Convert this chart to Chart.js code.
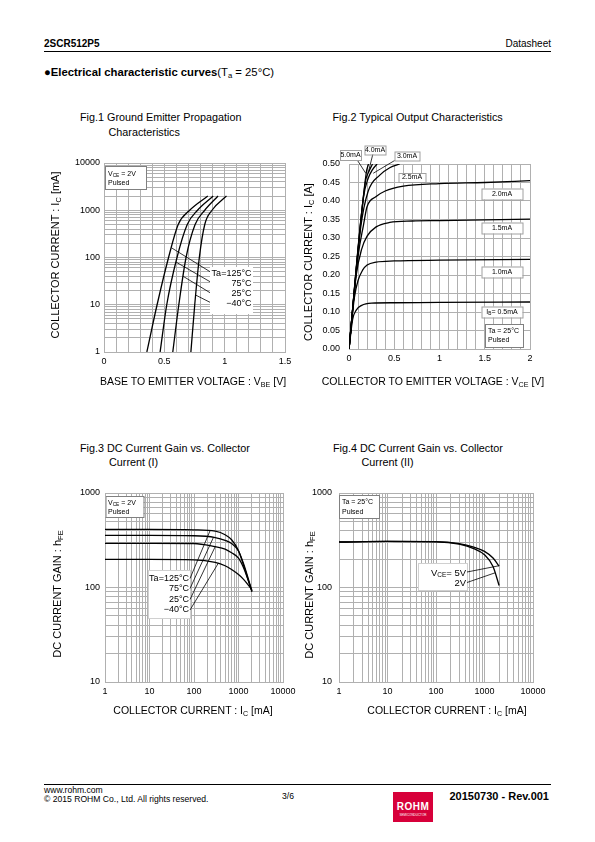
<!DOCTYPE html>
<html>
<head>
<meta charset="utf-8">
<script src="https://cdn.jsdelivr.net/npm/chart.js@4.4.0/dist/chart.umd.min.js"></script>
<style>
body { margin:0; width:595px; height:842px; position:relative; background:#fff; color:#000;
       font-family:"Liberation Sans", Arial, sans-serif; overflow:hidden; }
.t { position:absolute; white-space:nowrap; line-height:1; }
.s { font-size:68%; position:relative; top:0.3em; }
.rot { transform:translate(-50%,-50%) rotate(-90deg); }
.ctr { transform:translate(-50%,-50%); }
.rule { position:absolute; left:44px; width:507px; height:1px; background:#000; }
canvas { position:absolute; }
.logo { position:absolute; left:393px; top:792px; width:40px; height:30px; background:#d7003a; color:#fff; text-align:center; }
</style>
</head>
<body>
<!-- cabecera -->
<div class="t" style="left:44px;top:38.5px;font-size:10px;font-weight:bold">2SCR512P5</div>
<div class="t" style="right:44px;top:39px;font-size:10px">Datasheet</div>
<div class="rule" style="top:51px"></div>
<div class="t" style="left:44px;top:66.5px;font-size:11.3px"><b>●Electrical characteristic curves</b>(T<span class="s">a</span> = 25°C)</div>

<!-- titulos de figuras -->
<div class="t" style="left:80px;top:112px;font-size:10.8px">Fig.1 Ground Emitter Propagation</div>
<div class="t" style="left:108.5px;top:126.5px;font-size:10.8px">Characteristics</div>
<div class="t" style="left:332.5px;top:112px;font-size:10.8px">Fig.2 Typical Output Characteristics</div>
<div class="t" style="left:80px;top:443px;font-size:10.8px">Fig.3 DC Current Gain vs. Collector</div>
<div class="t" style="left:109px;top:457px;font-size:10.8px">Current (I)</div>
<div class="t" style="left:333px;top:443px;font-size:10.8px">Fig.4 DC Current Gain vs. Collector</div>
<div class="t" style="left:361.5px;top:457px;font-size:10.8px">Current (II)</div>

<canvas id="fig1" width="260" height="250" style="left:40px;top:150px"></canvas>
<canvas id="fig2" width="260" height="260" style="left:300px;top:140px"></canvas>
<canvas id="fig3" width="260" height="250" style="left:40px;top:480px"></canvas>
<canvas id="fig4" width="260" height="250" style="left:300px;top:480px"></canvas>

<!-- titulos de ejes -->
<div class="t rot" style="left:55px;top:255px;font-size:11px">COLLECTOR CURRENT : I<span class="s">C</span> [mA]</div>
<div class="t ctr" style="left:193px;top:381.5px;font-size:10.5px">BASE TO EMITTER VOLTAGE : V<span class="s">BE</span> [V]</div>
<div class="t rot" style="left:308px;top:262px;font-size:11px">COLLECTOR CURRENT : I<span class="s">C</span> [A]</div>
<div class="t ctr" style="left:433px;top:381.5px;font-size:10.5px">COLLECTOR TO EMITTER VOLTAGE : V<span class="s">CE</span> [V]</div>
<div class="t rot" style="left:57px;top:594px;font-size:11px">DC CURRENT GAIN : h<span class="s">FE</span></div>
<div class="t ctr" style="left:193px;top:711px;font-size:10.5px">COLLECTOR CURRENT : I<span class="s">C</span> [mA]</div>
<div class="t rot" style="left:309px;top:595px;font-size:11px">DC CURRENT GAIN : h<span class="s">FE</span></div>
<div class="t ctr" style="left:447px;top:711px;font-size:10.5px">COLLECTOR CURRENT : I<span class="s">C</span> [mA]</div>

<!-- pie -->
<div class="rule" style="top:784px"></div>
<div class="t" style="left:44px;top:785.5px;font-size:8.6px">www.rohm.com</div>
<div class="t" style="left:44px;top:794.5px;font-size:8.6px">© 2015 ROHM Co., Ltd. All rights reserved.</div>
<div class="t" style="left:282px;top:791.5px;font-size:8.6px">3/6</div>
<div class="logo"><div style="font-weight:bold;font-size:10px;margin-top:9px;letter-spacing:0.5px">ROHM</div><div style="font-size:3px;margin-top:1px">SEMICONDUCTOR</div></div>
<div class="t" style="right:46px;top:791px;font-size:11px;font-weight:bold">20150730 - Rev.001</div>

<script>
// Fig.1 datos: Ic [mA] vs Vbe [V]
const fig1Ic = [1, 10, 100, 500, 1000, 2000];
const fig1Vbe125 = [0.355, 0.44, 0.535, 0.615, 0.71, 0.86];
const fig1Vbe75 = [0.465, 0.52, 0.605, 0.69, 0.775, 0.905];
const fig1Vbe25 = [0.57, 0.62, 0.68, 0.755, 0.835, 0.945];
const fig1VbeM40 = [0.72, 0.752, 0.79, 0.835, 0.895, 1.015];
const fig1XLabels = [0, 0.5, 1, 1.5];
const fig1YLabels = [1, 10, 100, 1000, 10000];

// Fig.2 datos: Ic [A] vs Vce [V] para cada Ib
const fig2Vce05 = [0, 0.04, 0.08, 0.14, 0.25, 0.5, 1, 2];
const fig2Ic05 = [0, 0.08, 0.105, 0.118, 0.124, 0.125, 0.126, 0.127];
const fig2Vce10 = [0, 0.06, 0.1, 0.15, 0.2, 0.3, 0.5, 1, 2];
const fig2Ic10 = [0, 0.14, 0.185, 0.213, 0.227, 0.235, 0.238, 0.240, 0.242];
const fig2Vce15 = [0, 0.08, 0.14, 0.2, 0.3, 0.45, 0.7, 1, 2];
const fig2Ic15 = [0, 0.2, 0.27, 0.305, 0.33, 0.342, 0.346, 0.347, 0.351];
const fig2Vce20 = [0, 0.1, 0.16, 0.2, 0.3, 0.4, 0.6, 1, 1.5, 2];
const fig2Ic20 = [0, 0.25, 0.335, 0.385, 0.412, 0.427, 0.44, 0.447, 0.45, 0.455];
const fig2Vce25 = [0, 0.13, 0.21, 0.34, 0.45, 0.56];
const fig2Ic25 = [0, 0.33, 0.425, 0.47, 0.49, 0.5];
const fig2Vce30 = [0, 0.16, 0.21, 0.26, 0.31];
const fig2Ic30 = [0, 0.41, 0.46, 0.485, 0.5];
const fig2Vce40 = [0, 0.18, 0.22, 0.26];
const fig2Ic40 = [0, 0.45, 0.48, 0.5];
const fig2Vce50 = [0, 0.19, 0.215];
const fig2Ic50 = [0, 0.475, 0.5];
const fig2XLabels = [0, 0.5, 1, 1.5, 2];
const fig2YLabels = [0, 0.05, 0.1, 0.15, 0.2, 0.25, 0.3, 0.35, 0.4, 0.45, 0.5];

// Fig.3 datos: hFE vs Ic [mA] (Vce = 2V)
const fig3Ic = [1, 10, 100, 300, 500, 700, 1000, 1300, 2000];
const fig3Hfe125 = [412, 412, 408, 395, 362, 320, 245, 172, 90];
const fig3Hfe75 = [356, 356, 353, 338, 316, 292, 243, 178, 92];
const fig3Hfe25 = [293, 293, 292, 270, 255, 233, 205, 162, 92];
const fig3HfeM40 = [198, 198, 196, 184, 170, 155, 137, 122, 95];
const fig3XLabels = [1, 10, 100, 1000, 10000];
const fig3YLabels = [10, 100, 1000];

// Fig.4 datos: hFE vs Ic [mA] (Ta = 25C)
const fig4Ic = [1, 10, 100, 300, 600, 1000, 1500, 2000];
const fig4Hfe5V = [303, 307, 306, 292, 268, 241, 205, 168];
const fig4Hfe2V = [303, 307, 304, 287, 258, 222, 167, 105];

const FONT = '"Liberation Sans", Arial, sans-serif';
const GRID = '#b0b0b0';

function logGrid(min, max) {
  const out = [];
  for (let d = min; d < max; d *= 10) for (let k = 1; k < 10; k++) out.push(k * d);
  out.push(max);
  return out;
}
function linGrid(min, max, step) {
  const n = Math.round((max - min) / step);
  return Array.from({ length: n + 1 }, (_, i) => +(min + i * step).toFixed(4));
}

function axis(o) {
  return {
    type: o.type, min: o.min, max: o.max,
    afterBuildTicks: s => { s.ticks = o.grid.map(v => ({ value: v })); },
    afterFit: s => { if (o.width) s.width = o.width; if (o.height) s.height = o.height; },
    ticks: {
      autoSkip: false, maxRotation: 0, padding: o.pad, color: '#000',
      font: { family: FONT, size: 9 },
      callback: v => {
        const hit = o.labels.find(l => Math.abs(l - v) < 1e-9);
        return hit === undefined ? '' : o.fmt(hit);
      }
    },
    grid: { color: GRID, lineWidth: 1, drawTicks: false },
    border: { display: true, color: GRID }
  };
}

function curve(xs, ys) {
  return {
    data: xs.map((x, i) => ({ x: x, y: ys[i] })),
    borderColor: '#000', borderWidth: 1.3, pointRadius: 0,
    showLine: true, fill: false, cubicInterpolationMode: 'monotone'
  };
}

// utilidades de dibujo para las anotaciones
function fnt(size) { return size + 'px ' + FONT; }
function rich(ctx, segs, x, y, size, align) {
  let w = 0;
  segs.forEach(([t, sub]) => { ctx.font = fnt(sub ? size * 0.68 : size); w += ctx.measureText(t).width; });
  let cx = align === 'right' ? x - w : (align === 'center' ? x - w / 2 : x);
  ctx.textAlign = 'left';
  ctx.textBaseline = 'middle';
  ctx.fillStyle = '#000';
  segs.forEach(([t, sub]) => {
    ctx.font = fnt(sub ? size * 0.68 : size);
    ctx.fillText(t, cx, sub ? y + size * 0.28 : y);
    cx += ctx.measureText(t).width;
  });
}
function box(ctx, x, y, w, h, stroke) {
  ctx.fillStyle = '#fff';
  ctx.fillRect(x, y, w, h);
  if (stroke) { ctx.strokeStyle = stroke; ctx.lineWidth = 1; ctx.strokeRect(x + 0.5, y + 0.5, w, h); }
}
function line(ctx, x1, y1, x2, y2) {
  ctx.strokeStyle = '#000'; ctx.lineWidth = 0.8;
  ctx.beginPath(); ctx.moveTo(x1, y1); ctx.lineTo(x2, y2); ctx.stroke();
}
function notes(draw) {
  return { id: 'notes', afterDatasetsDraw(chart) {
    const a = chart.chartArea, sx = chart.scales.x, sy = chart.scales.y, ctx = chart.ctx;
    const P = (x, y) => [sx.getPixelForValue(x), sy.getPixelForValue(y)];
    ctx.save(); draw(ctx, a.left, a.top, P); ctx.restore();
  } };
}
function baseOpts(pad, x, y) {
  return {
    responsive: false, animation: false, devicePixelRatio: 1,
    layout: { padding: pad },
    plugins: { legend: { display: false }, tooltip: { enabled: false } },
    scales: { x: x, y: y }
  };
}

// Fig.1
new Chart(document.getElementById('fig1'), {
  type: 'scatter',
  data: { datasets: [
    curve(fig1Vbe125, fig1Ic), curve(fig1Vbe75, fig1Ic),
    curve(fig1Vbe25, fig1Ic), curve(fig1VbeM40, fig1Ic)
  ] },
  options: baseOpts({ top: 13, right: 15, left: 0, bottom: 0 },
    axis({ type: 'linear', min: 0, max: 1.5, grid: linGrid(0, 1.5, 0.1), labels: fig1XLabels, fmt: String, height: 48, pad: 4 }),
    axis({ type: 'logarithmic', min: 1, max: 10000, grid: logGrid(1, 10000), labels: fig1YLabels, fmt: String, width: 64, pad: 4 })),
  plugins: [notes((ctx, L, T, P) => {
    box(ctx, L + 1, T + 3, 41, 23, '#808080');
    rich(ctx, [['V'], ['CE', 1], [' = 2V']], L + 4, T + 11, 7);
    rich(ctx, [['Pulsed']], L + 4, T + 20.5, 7);
    box(ctx, L + 106, T + 104, 43, 47, null);
    const starts = [[0.56, 160], [0.597, 80], [0.656, 40], [0.76, 16]];
    const ends = [108.7, 118.7, 129.7, 139.3];
    starts.forEach((s, i) => { const p = P(s[0], s[1]); line(ctx, p[0], p[1], L + 106, T + ends[i]); });
    const txt = ['Ta=125°C', '75°C', '25°C', '\u221240°C'];
    txt.forEach((t, i) => rich(ctx, [[t]], L + 147.5, T + 111 + i * 10, 9, 'right'));
  })]
});

// Fig.2
new Chart(document.getElementById('fig2'), {
  type: 'scatter',
  data: { datasets: [
    curve(fig2Vce05, fig2Ic05), curve(fig2Vce10, fig2Ic10), curve(fig2Vce15, fig2Ic15),
    curve(fig2Vce20, fig2Ic20), curve(fig2Vce25, fig2Ic25), curve(fig2Vce30, fig2Ic30),
    curve(fig2Vce40, fig2Ic40), curve(fig2Vce50, fig2Ic50)
  ] },
  options: baseOpts({ top: 24, right: 30, left: 0, bottom: 0 },
    axis({ type: 'linear', min: 0, max: 2, grid: linGrid(0, 2, 0.1), labels: fig2XLabels, fmt: String, height: 51, pad: 4 }),
    axis({ type: 'linear', min: 0, max: 0.5, grid: linGrid(0, 0.5, 0.05), labels: fig2YLabels, fmt: v => v.toFixed(2), width: 49, pad: 9 })),
  plugins: [notes((ctx, L, T, P) => {
    let a, b;
    a = P(0.085, 0.513); b = P(0.185, 0.475); line(ctx, a[0], a[1], b[0], b[1]);
    a = P(0.265, 0.528); b = P(0.213, 0.477); line(ctx, a[0], a[1], b[0], b[1]);
    a = P(0.508, 0.51); b = P(0.268, 0.475); line(ctx, a[0], a[1], b[0], b[1]);
    const lab = (t, cx, cy, w, h, sub) => {
      box(ctx, L + cx - w / 2, T + cy - h / 2, w, h, '#a0a0a0');
      rich(ctx, sub || [[t]], L + cx, T + cy, 7, 'center');
    };
    lab('5.0mA', 1.5, -9, 21, 10);
    lab('4.0mA', 26, -14, 21, 9);
    lab('3.0mA', 58, -8, 25, 9);
    lab('2.5mA', 63, 13.5, 27, 9);
    lab('2.0mA', 153, 30, 41, 11);
    lab('1.5mA', 153, 64, 41, 11);
    lab('1.0mA', 153, 108, 41, 11);
    lab('', 153, 148, 41, 11, [['I'], ['B', 1], ['= 0.5mA']]);
    box(ctx, L + 136, T + 160, 38, 23, '#808080');
    rich(ctx, [['Ta = 25°C']], L + 139, T + 167, 7);
    rich(ctx, [['Pulsed']], L + 139, T + 176.5, 7);
  })]
});

// Fig.3
new Chart(document.getElementById('fig3'), {
  type: 'scatter',
  data: { datasets: [
    curve(fig3Ic, fig3Hfe125), curve(fig3Ic, fig3Hfe75),
    curve(fig3Ic, fig3Hfe25), curve(fig3Ic, fig3HfeM40)
  ] },
  options: baseOpts({ top: 13, right: 17, left: 0, bottom: 0 },
    axis({ type: 'logarithmic', min: 1, max: 10000, grid: logGrid(1, 10000), labels: fig3XLabels, fmt: String, height: 48, pad: 4 }),
    axis({ type: 'logarithmic', min: 10, max: 1000, grid: logGrid(10, 1000), labels: fig3YLabels, fmt: String, width: 65, pad: 5 })),
  plugins: [notes((ctx, L, T, P) => {
    box(ctx, L + 0.5, T + 3, 38, 21, '#808080');
    rich(ctx, [['V'], ['CE', 1], [' = 2V']], L + 3, T + 10, 7);
    rich(ctx, [['Pulsed']], L + 3, T + 19.5, 7);
    box(ctx, L + 43, T + 77, 42, 48, '#d0d0d0');
    const ends = [[231, 402], [274, 340], [299, 270], [355, 182]];
    const txt = ['Ta=125°C', '75°C', '25°C', '\u221240°C'];
    const ys = [85.5, 95.5, 106.5, 117];
    txt.forEach((t, i) => {
      rich(ctx, [[t]], L + 84, T + ys[i], 9, 'right');
      const p = P(ends[i][0], ends[i][1]);
      line(ctx, L + 85, T + ys[i], p[0], p[1]);
    });
  })]
});

// Fig.4
new Chart(document.getElementById('fig4'), {
  type: 'scatter',
  data: { datasets: [curve(fig4Ic, fig4Hfe5V), curve(fig4Ic, fig4Hfe2V)] },
  options: baseOpts({ top: 13, right: 27, left: 0, bottom: 0 },
    axis({ type: 'logarithmic', min: 1, max: 10000, grid: logGrid(1, 10000), labels: fig3XLabels, fmt: String, height: 48, pad: 4 }),
    axis({ type: 'logarithmic', min: 10, max: 1000, grid: logGrid(10, 1000), labels: fig3YLabels, fmt: String, width: 39, pad: 7 })),
  plugins: [notes((ctx, L, T, P) => {
    box(ctx, L + 0, T + 2, 40, 23, '#808080');
    rich(ctx, [['Ta = 25°C']], L + 3, T + 9.5, 7);
    rich(ctx, [['Pulsed']], L + 3, T + 19, 7);
    box(ctx, L + 79, T + 70, 49, 27, '#d0d0d0');
    rich(ctx, [['V'], ['CE', 1], ['= 5V']], L + 127, T + 80, 9.5, 'right');
    rich(ctx, [['2V']], L + 127, T + 90.5, 9.5, 'right');
    let p = P(2000, 170); line(ctx, L + 128, T + 79, p[0], p[1]);
    p = P(1650, 143); line(ctx, L + 128, T + 89.5, p[0], p[1]);
  })]
});
</script>
</body>
</html>
